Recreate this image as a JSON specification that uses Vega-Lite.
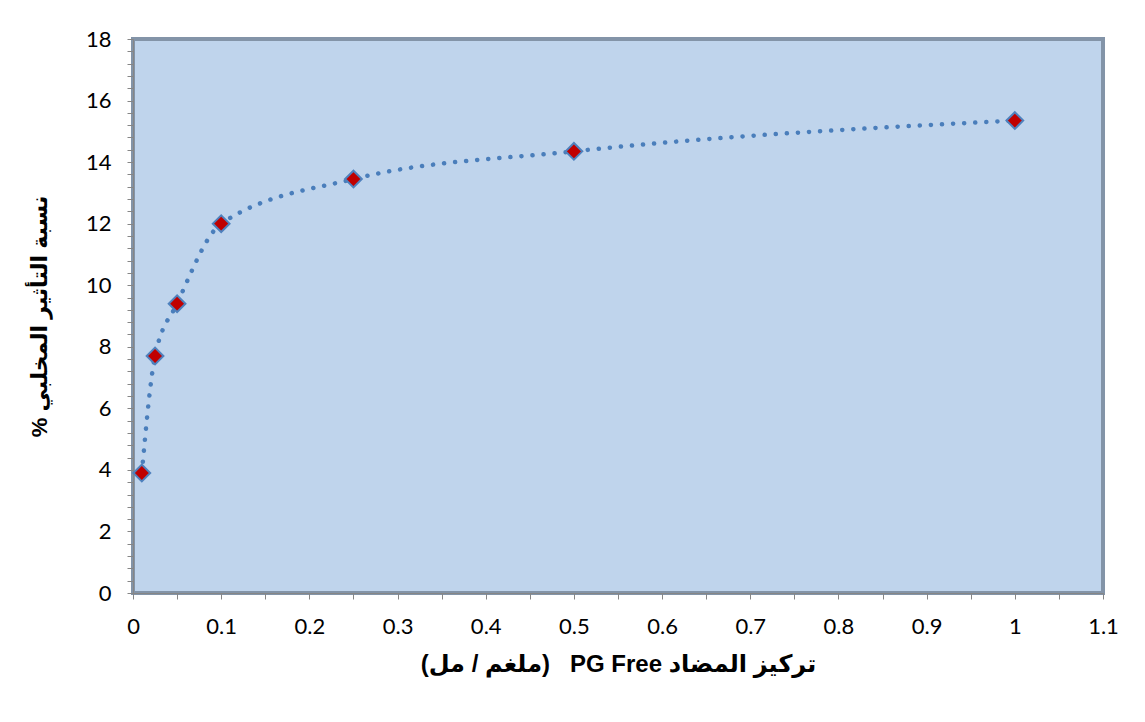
{
  "$schema": "https://vega.github.io/schema/vega-lite/v6.json",
  "autosize": "none",
  "width": 970,
  "height": 554,
  "padding": {"left": 133, "top": 39, "right": 42, "bottom": 129},
  "background": "white",
  "config": {
    "view": {"fill": "#BFD4EC", "stroke": "#8394A8", "strokeWidth": 4},
    "axis": {
      "labelFont": "Lato",
      "labelFontSize": 22,
      "labelColor": "#000000",
      "titleFont": "Liberation Sans, DejaVu Sans",
      "titleFontWeight": "bold",
      "titleColor": "#000000",
      "domainColor": "#868686",
      "tickColor": "#868686",
      "tickSize": 6,
      "grid": false,
      "labelOverlap": false,
      "labelBound": false,
      "labelFlush": false
    }
  },
  "data": {
    "values": [
      {"conc": 0.01, "pct": 3.9},
      {"conc": 0.025, "pct": 7.7},
      {"conc": 0.05, "pct": 9.4},
      {"conc": 0.1, "pct": 12.0},
      {"conc": 0.25, "pct": 13.45},
      {"conc": 0.5, "pct": 14.35},
      {"conc": 1, "pct": 15.35}
    ]
  },
  "encoding": {
    "x": {
      "field": "conc",
      "type": "quantitative",
      "scale": {"domain": [0, 1.1], "nice": false, "zero": false},
      "axis": {
        "title": "(ملغم / مل)\u00a0\u00a0 PG Free تركيز المضاد",
        "titleFontSize": 24,
        "values": [0, 0.05, 0.1, 0.15, 0.2, 0.25, 0.3, 0.35, 0.4, 0.45, 0.5, 0.55, 0.6, 0.65, 0.7, 0.75, 0.8, 0.85, 0.9, 0.95, 1, 1.05, 1.1],
        "format": ".1~f",
        "labelExpr": "round(datum.value * 100) % 10 === 0 ? datum.label : ''",
        "labelPadding": 17,
        "titlePadding": 15
      }
    },
    "y": {
      "field": "pct",
      "type": "quantitative",
      "scale": {"domain": [0, 18], "nice": false},
      "axis": {
        "title": "% نسبة التأثير المخلبي",
        "titleFontSize": 22,
        "values": [0, 0.4, 0.8, 1.2, 1.6, 2, 2.4, 2.8, 3.2, 3.6, 4, 4.4, 4.8, 5.2, 5.6, 6, 6.4, 6.8, 7.2, 7.6, 8, 8.4, 8.8, 9.2, 9.6, 10, 10.4, 10.8, 11.2, 11.6, 12, 12.4, 12.8, 13.2, 13.6, 14, 14.4, 14.8, 15.2, 15.6, 16, 16.4, 16.8, 17.2, 17.6, 18],
        "format": ".1~f",
        "labelExpr": "datum.value % 2 === 0 ? datum.label : ''",
        "labelPadding": 16,
        "titlePadding": 34
      }
    }
  },
  "layer": [
    {
      "mark": {
        "type": "line",
        "interpolate": "monotone",
        "color": "#4A7EBB",
        "strokeWidth": 4.5,
        "strokeDash": [0.1, 11],
        "strokeCap": "round"
      }
    },
    {
      "mark": {
        "type": "point",
        "shape": "diamond",
        "size": 280,
        "filled": true,
        "fill": "#C00000",
        "stroke": "#4F81BD",
        "strokeWidth": 2,
        "opacity": 1
      }
    }
  ]
}
